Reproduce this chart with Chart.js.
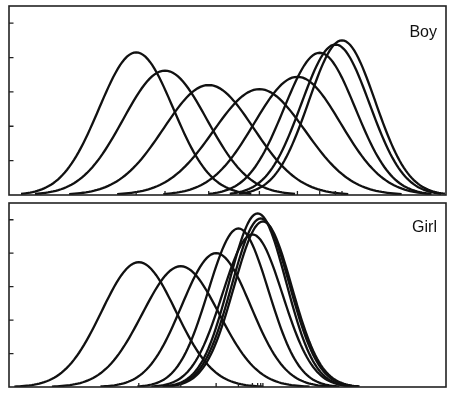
<!DOCTYPE html>
<html>
<head>
<meta charset="utf-8">
<script src="https://cdn.jsdelivr.net/npm/chart.js@4/dist/chart.umd.min.js"></script>
<style>
  body { margin: 0; background: #fff; }
  canvas { position: absolute; left: 0; }
  #boyChart { top: 0; }
  #girlChart { top: 198px; }
</style>
</head>
<body>
<canvas id="boyChart" width="458" height="200"></canvas>
<canvas id="girlChart" width="458" height="196"></canvas>
<script>
'use strict';

/*          DATA          */
// each curve is a normal curve: centre, spread and peak height on the chart's axes
const boyMeans = [29.1, 35.7, 45.7, 57.3, 66.0, 71.1, 74.7, 76.2];
const boySDs = [8.5, 9.6, 10.3, 10.5, 9.9, 8.2, 7.8, 7.6];
const boyPeaks = [4.15, 3.62, 3.2, 3.08, 3.44, 4.14, 4.38, 4.5];

const girlMeans = [29.7, 39.3, 47.4, 52.5, 55.7, 56.9, 57.6, 58.1];
const girlSDs = [8.5, 8.8, 7.9, 6.9, 6.9, 6.5, 6.6, 6.6];
const girlPeaks = [3.73, 3.61, 4.0, 4.74, 4.56, 5.19, 5.04, 4.95];

// left axis ticks
const yTicks = [1, 2, 3, 4, 5];
const xRange = [0, 100];
const yRange = [0, 5.5];


/*          HELPERS          */
// points along one normal curve, from mean - span*sd to mean + span*sd
function curvePoints(mean, sd, peak, span) {
  let pts = [];
  const steps = 100;
  for (let i = 0; i <= steps; i++) {
    let x = mean - span * sd + i * 2 * span * sd / steps;
    let z = (x - mean) / sd;
    pts.push({ x: x, y: peak * Math.exp(-z * z / 2) });
  }
  return pts;
}

// frame, inside tick marks and the panel title
const panelDecor = {
  id: 'panelDecor',
  afterDraw(chart, args, opts) {
    const ctx = chart.ctx;
    const area = chart.chartArea;
    const xs = chart.scales.x;
    const ys = chart.scales.y;
    ctx.save();
    ctx.strokeStyle = '#222';
    ctx.lineWidth = 1.6;
    ctx.strokeRect(area.left, area.top, area.right - area.left, area.bottom - area.top);

    ctx.lineWidth = 1.3;
    ctx.beginPath();
    // y ticks point into the plot from the left edge
    for (let t of yTicks) {
      let py = ys.getPixelForValue(t);
      ctx.moveTo(area.left, py);
      ctx.lineTo(area.left + 4.5, py);
    }
    // x ticks mark the centre of each curve
    for (let m of opts.marks) {
      let px = xs.getPixelForValue(m);
      ctx.moveTo(px, area.bottom);
      ctx.lineTo(px, area.bottom - 4);
    }
    ctx.stroke();

    ctx.fillStyle = '#111';
    ctx.font = '16px "Liberation Sans", Arial, sans-serif';
    ctx.textAlign = 'right';
    ctx.textBaseline = 'alphabetic';
    ctx.fillText(opts.title, area.right - 9, area.top + opts.titleY);
    ctx.restore();
  }
};

function makePanel(canvasId, means, sds, peaks, span, title, padding, titleY) {
  let datasets = [];
  for (let i = 0; i < means.length; i++) {
    datasets.push({
      data: curvePoints(means[i], sds[i], peaks[i], span),
      borderColor: '#111',
      borderWidth: 2.3,
      pointRadius: 0,
      fill: false,
      tension: 0
    });
  }
  return new Chart(document.getElementById(canvasId), {
    type: 'line',
    data: { datasets: datasets },
    options: {
      responsive: false,
      animation: false,
      layout: { padding: padding },
      scales: {
        x: { type: 'linear', min: xRange[0], max: xRange[1], display: false },
        y: { min: yRange[0], max: yRange[1], display: false }
      },
      plugins: {
        legend: { display: false },
        tooltip: { enabled: false },
        panelDecor: { marks: means, title: title, titleY: titleY }
      }
    },
    plugins: [panelDecor]
  });
}

makePanel('boyChart', boyMeans, boySDs, boyPeaks, 3.1, 'Boy',
  { left: 9, right: 12, top: 6, bottom: 5 }, 31);
makePanel('girlChart', girlMeans, girlSDs, girlPeaks, 3.35, 'Girl',
  { left: 9, right: 12, top: 5, bottom: 7 }, 29);
</script>
</body>
</html>
